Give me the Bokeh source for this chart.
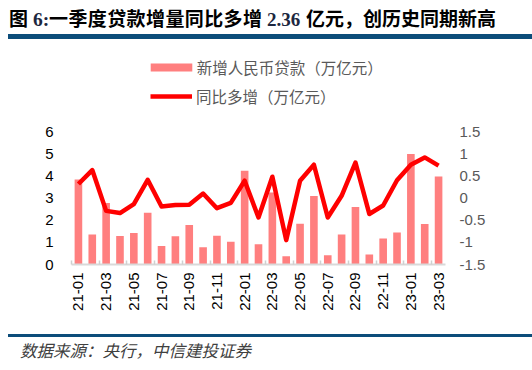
import math
from bokeh.plotting import figure
from bokeh.layouts import column
from bokeh.models import (ColumnDataSource, Range1d, LinearAxis, FixedTicker,
                          Legend, LegendItem, Div)
from bokeh.embed import file_html
from bokeh.resources import INLINE

months = ["21-01", "21-02", "21-03", "21-04", "21-05", "21-06", "21-07", "21-08", "21-09",
          "21-10", "21-11", "21-12", "22-01", "22-02", "22-03", "22-04", "22-05", "22-06",
          "22-07", "22-08", "22-09", "22-10", "22-11", "22-12", "23-01", "23-02", "23-03"]
new_loans = [3.84, 1.35, 2.77, 1.29, 1.42, 2.34, 0.84, 1.27, 1.78, 0.78, 1.30, 1.03, 4.23,
             0.91, 3.25, 0.37, 1.84, 3.09, 0.42, 1.35, 2.59, 0.45, 1.17, 1.44, 4.98, 1.83, 3.97]
yoy_increase = [0.315, 0.63, -0.29, -0.34, -0.14, 0.41, -0.19, -0.16, -0.15, 0.10, -0.23,
                -0.11, 0.39, -0.44, 0.48, -0.95, 0.39, 0.75, -0.44, 0.05, 0.80, -0.36,
                -0.17, 0.40, 0.75, 0.915, 0.73]
left_ticks = [0, 1, 2, 3, 4, 5, 6]
right_ticks = [-1.5, -1, -0.5, 0, 0.5, 1, 1.5]
right_tick_labels = ["-1.5", "-1", "-0.5", "0", "0.5", "1", "1.5"]
bar_label = "新增人民币贷款（万亿元）"
line_label = "同比多增（万亿元）"
title_parts = ["图", "6:", "一季度贷款增量同比多增", "2.36", "亿元，创历史同期新高"]
source_note = "数据来源：央行，中信建投证券"

W = 532
FONT = "Liberation Sans"
SERIF = "Liberation Serif"
CJK = "Noto Sans CJK SC"
RULE = "#0c4d7a"

# ---------------- header (title + rule) ----------------
HEAD_H = 42


def span(text, left, top, font, size, color, weight="bold", style="normal", extra=""):
    return (f'<span style="position:absolute;left:{left}px;top:{top}px;white-space:nowrap;'
            f"font-family:'{font}';font-size:{size}px;line-height:19px;font-weight:{weight};"
            f'font-style:{style};color:{color};{extra}">{text}</span>')


head_html = (
    f'<div style="position:relative;width:{W}px;height:{HEAD_H}px;overflow:hidden;">'
    + span(title_parts[0], 9, 7.7, CJK, 19, "#000000")
    + span(title_parts[1], 33, 9.6, SERIF, 19.5, "#1c2740")
    + span(title_parts[2], 49, 7.7, CJK, 19, "#000000", extra="letter-spacing:0.4px;")
    + span(title_parts[3], 267, 9.6, SERIF, 19, "#1c2740")
    + span(title_parts[4], 306, 7.7, CJK, 19, "#000000")
    + f'<div style="position:absolute;left:8px;top:33.5px;width:{W - 8}px;height:5.5px;'
      f'background:{RULE};"></div></div>'
)
head = Div(text=head_html, width=W, height=HEAD_H, margin=0)

# ---------------- main chart ----------------
MAIN_H = 283            # page y 42 .. 325
F_TOP, F_BOT = 45, 264  # frame top / bottom in page pixels (axis 6 / 1.5 sits at y=131)
AX_TOP = 131
frame_h = F_BOT - F_TOP
axis_h = F_BOT - AX_TOP
left_end = left_ticks[0] + (left_ticks[-1] - left_ticks[0]) * frame_h / axis_h
right_end = right_ticks[0] + (right_ticks[-1] - right_ticks[0]) * frame_h / axis_h

src = ColumnDataSource(dict(x=list(range(len(months))), loans=new_loans, yoy=yoy_increase))

p = figure(width=W, height=MAIN_H, x_range=Range1d(-0.5, len(months) - 0.5),
           y_range=Range1d(left_ticks[0], left_end),
           output_backend="svg", toolbar_location=None,
           min_border_left=71, min_border_right=W - 445,
           min_border_top=F_TOP - HEAD_H, min_border_bottom=HEAD_H + MAIN_H - F_BOT,
           margin=0)
p.extra_y_ranges = {"right": Range1d(right_ticks[0], right_end)}
p.outline_line_color = None
p.xgrid.visible = False
p.ygrid.visible = False

bars = p.vbar(x="x", top="loans", width=0.55, fill_color="#ff7f7f", line_color=None, source=src)
line = p.line(x="x", y="yoy", y_range_name="right", line_color="#ff0000", line_width=4.5,
              line_join="round", source=src)

xa = p.xaxis[0]
label_idx = list(range(0, len(months), 2))
xa.ticker = FixedTicker(ticks=label_idx, minor_ticks=[i - 0.5 for i in label_idx])
xa.major_label_overrides = {i: months[i] for i in label_idx}
xa.major_label_orientation = math.pi / 2
xa.major_tick_line_color = None
xa.major_tick_out = 0
xa.major_tick_in = 0
xa.minor_tick_line_color = "#d0d0d0"
xa.minor_tick_line_width = 1.5
xa.minor_tick_in = 4
xa.minor_tick_out = 0
xa.axis_line_color = "#d9d9d9"
xa.axis_line_width = 2
xa.major_label_standoff = 8
xa.major_label_text_font = FONT
xa.major_label_text_font_size = "15px"
xa.major_label_text_color = "#000000"

ya = p.yaxis[0]
ya.ticker = FixedTicker(ticks=left_ticks)
ya.axis_line_color = None
ya.major_tick_line_color = None
ya.minor_tick_line_color = None
ya.major_tick_out = 0
ya.major_label_standoff = 18
ya.major_label_text_font = FONT
ya.major_label_text_font_size = "15px"
ya.major_label_text_color = "#000000"

ra = LinearAxis(y_range_name="right", ticker=FixedTicker(ticks=right_ticks))
ra.major_label_overrides = dict(zip(right_ticks, right_tick_labels))
ra.axis_line_color = None
ra.major_tick_line_color = None
ra.minor_tick_line_color = None
ra.major_tick_out = 0
ra.major_label_standoff = 14
ra.major_label_text_font = FONT
ra.major_label_text_font_size = "15px"
ra.major_label_text_color = "#595959"
p.add_layout(ra, "right")

FL = 71.0


def fx(X):
    return X - FL


def fy(Y):
    return F_BOT - Y


leg1 = Legend(items=[LegendItem(label=bar_label, renderers=[bars])],
              location=(fx(144.8), fy(77.5)), glyph_width=52, glyph_height=10,
              label_standoff=0, padding=0, margin=0, border_line_color=None,
              background_fill_alpha=0, label_text_font=CJK, label_text_font_size="15.5px",
              label_text_color="#595959")
leg2 = Legend(items=[LegendItem(label=line_label, renderers=[line])],
              location=(fx(150), fy(106.5)), glyph_width=42, glyph_height=18,
              label_standoff=4, padding=0, margin=0, border_line_color=None,
              background_fill_alpha=0, label_text_font=CJK, label_text_font_size="15.5px",
              label_text_color="#595959")
p.add_layout(leg1)
p.add_layout(leg2)

# ---------------- footer (rule + source) ----------------
FOOT_H = 370 - HEAD_H - MAIN_H
Y0 = HEAD_H + MAIN_H
foot_html = (
    f'<div style="position:relative;width:{W}px;height:{FOOT_H}px;overflow:hidden;">'
    f'<div style="position:absolute;left:8px;top:{333.5 - Y0}px;width:{W - 8}px;height:3px;'
    f'background:{RULE};"></div>'
    f'<span style="position:absolute;left:20px;top:{351 - Y0 - 11}px;white-space:nowrap;'
    f"font-family:'{CJK}';font-size:16.5px;line-height:20px;font-style:italic;"
    f'color:#404040;">{source_note}</span></div>'
)
foot = Div(text=foot_html, width=W, height=FOOT_H, margin=0)

layout = column(head, p, foot, spacing=0)
open("out.html", "w").write(file_html(layout, INLINE))
